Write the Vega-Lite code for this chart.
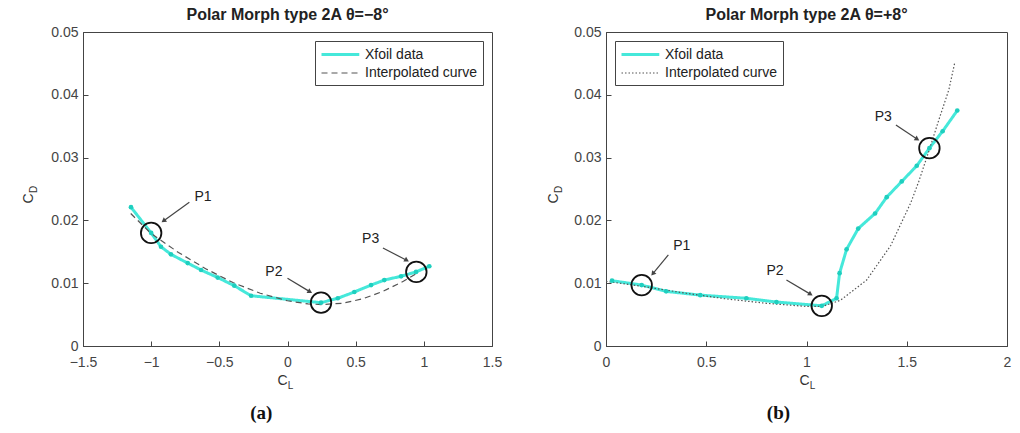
{
  "$schema": "https://vega.github.io/schema/vega-lite/v6.json",
  "padding": {"left": 20, "top": 6, "right": 4, "bottom": 4},
  "spacing": 42,
  "datasets": {
    "a_lines": [
      {"CL": -1.148, "CD": 0.0221, "series": "Xfoil data"},
      {"CL": -1.0, "CD": 0.0180, "series": "Xfoil data"},
      {"CL": -0.928, "CD": 0.0158, "series": "Xfoil data"},
      {"CL": -0.855, "CD": 0.0146, "series": "Xfoil data"},
      {"CL": -0.732, "CD": 0.0132, "series": "Xfoil data"},
      {"CL": -0.634, "CD": 0.0121, "series": "Xfoil data"},
      {"CL": -0.512, "CD": 0.0109, "series": "Xfoil data"},
      {"CL": -0.39, "CD": 0.0096, "series": "Xfoil data"},
      {"CL": -0.267, "CD": 0.0080, "series": "Xfoil data"},
      {"CL": 0.246, "CD": 0.0069, "series": "Xfoil data"},
      {"CL": 0.369, "CD": 0.0076, "series": "Xfoil data"},
      {"CL": 0.49, "CD": 0.0086, "series": "Xfoil data"},
      {"CL": 0.613, "CD": 0.0097, "series": "Xfoil data"},
      {"CL": 0.71, "CD": 0.0105, "series": "Xfoil data"},
      {"CL": 0.833, "CD": 0.0111, "series": "Xfoil data"},
      {"CL": 0.943, "CD": 0.0118, "series": "Xfoil data"},
      {"CL": 1.04, "CD": 0.0127, "series": "Xfoil data"},
      {"CL": -1.15, "CD": 0.0211, "series": "Interpolated curve"},
      {"CL": -1.0, "CD": 0.0179, "series": "Interpolated curve"},
      {"CL": -0.8, "CD": 0.0149, "series": "Interpolated curve"},
      {"CL": -0.6, "CD": 0.0123, "series": "Interpolated curve"},
      {"CL": -0.4, "CD": 0.0101, "series": "Interpolated curve"},
      {"CL": -0.2, "CD": 0.0084, "series": "Interpolated curve"},
      {"CL": 0.0, "CD": 0.0072, "series": "Interpolated curve"},
      {"CL": 0.15, "CD": 0.0067, "series": "Interpolated curve"},
      {"CL": 0.25, "CD": 0.0066, "series": "Interpolated curve"},
      {"CL": 0.4, "CD": 0.0068, "series": "Interpolated curve"},
      {"CL": 0.55, "CD": 0.0075, "series": "Interpolated curve"},
      {"CL": 0.7, "CD": 0.0087, "series": "Interpolated curve"},
      {"CL": 0.85, "CD": 0.0103, "series": "Interpolated curve"},
      {"CL": 0.95, "CD": 0.0116, "series": "Interpolated curve"}
    ],
    "a_pts": [
      {"label": "P1", "CL": -1.0, "CD": 0.0180},
      {"label": "P2", "CL": 0.246, "CD": 0.0069},
      {"label": "P3", "CL": 0.945, "CD": 0.0118}
    ],
    "a_arrows": [
      {"label": "P1", "lx": -0.62, "ly": 0.0237, "x1": -0.72, "y1": 0.0229, "x2": -0.905, "y2": 0.0200, "dir": "left"},
      {"label": "P2", "lx": -0.10, "ly": 0.0118, "x1": 0.0, "y1": 0.0108, "x2": 0.16, "y2": 0.0087, "dir": "right"},
      {"label": "P3", "lx": 0.61, "ly": 0.0170, "x1": 0.70, "y1": 0.0156, "x2": 0.87, "y2": 0.0137, "dir": "right"}
    ],
    "b_lines": [
      {"CL": 0.03, "CD": 0.0104, "series": "Xfoil data"},
      {"CL": 0.178, "CD": 0.0097, "series": "Xfoil data"},
      {"CL": 0.30, "CD": 0.0087, "series": "Xfoil data"},
      {"CL": 0.47, "CD": 0.0081, "series": "Xfoil data"},
      {"CL": 0.70, "CD": 0.0076, "series": "Xfoil data"},
      {"CL": 0.85, "CD": 0.0070, "series": "Xfoil data"},
      {"CL": 1.076, "CD": 0.0064, "series": "Xfoil data"},
      {"CL": 1.15, "CD": 0.0076, "series": "Xfoil data"},
      {"CL": 1.165, "CD": 0.0116, "series": "Xfoil data"},
      {"CL": 1.20, "CD": 0.0154, "series": "Xfoil data"},
      {"CL": 1.258, "CD": 0.0187, "series": "Xfoil data"},
      {"CL": 1.342, "CD": 0.0211, "series": "Xfoil data"},
      {"CL": 1.40, "CD": 0.0237, "series": "Xfoil data"},
      {"CL": 1.475, "CD": 0.0262, "series": "Xfoil data"},
      {"CL": 1.55, "CD": 0.0287, "series": "Xfoil data"},
      {"CL": 1.613, "CD": 0.0315, "series": "Xfoil data"},
      {"CL": 1.679, "CD": 0.0342, "series": "Xfoil data"},
      {"CL": 1.752, "CD": 0.0375, "series": "Xfoil data"},
      {"CL": 0.0, "CD": 0.0103, "series": "Interpolated curve"},
      {"CL": 0.18, "CD": 0.0095, "series": "Interpolated curve"},
      {"CL": 0.4, "CD": 0.0084, "series": "Interpolated curve"},
      {"CL": 0.6, "CD": 0.0075, "series": "Interpolated curve"},
      {"CL": 0.8, "CD": 0.0068, "series": "Interpolated curve"},
      {"CL": 1.0, "CD": 0.0063, "series": "Interpolated curve"},
      {"CL": 1.08, "CD": 0.0063, "series": "Interpolated curve"},
      {"CL": 1.17, "CD": 0.0073, "series": "Interpolated curve"},
      {"CL": 1.30, "CD": 0.0105, "series": "Interpolated curve"},
      {"CL": 1.42, "CD": 0.0160, "series": "Interpolated curve"},
      {"CL": 1.52, "CD": 0.0228, "series": "Interpolated curve"},
      {"CL": 1.56, "CD": 0.0262, "series": "Interpolated curve"},
      {"CL": 1.61, "CD": 0.0310, "series": "Interpolated curve"},
      {"CL": 1.66, "CD": 0.0360, "series": "Interpolated curve"},
      {"CL": 1.71, "CD": 0.0408, "series": "Interpolated curve"},
      {"CL": 1.74, "CD": 0.0452, "series": "Interpolated curve"}
    ],
    "b_pts": [
      {"label": "P1", "CL": 0.178, "CD": 0.0097},
      {"label": "P2", "CL": 1.076, "CD": 0.0064},
      {"label": "P3", "CL": 1.613, "CD": 0.0315}
    ],
    "b_arrows": [
      {"label": "P1", "lx": 0.378, "ly": 0.0159, "x1": 0.311, "y1": 0.0145, "x2": 0.236, "y2": 0.0116, "dir": "left"},
      {"label": "P2", "lx": 0.843, "ly": 0.0119, "x1": 0.90, "y1": 0.0105, "x2": 1.017, "y2": 0.0083, "dir": "right"},
      {"label": "P3", "lx": 1.383, "ly": 0.0364, "x1": 1.446, "y1": 0.0352, "x2": 1.549, "y2": 0.0330, "dir": "right"}
    ]
  },
  "hconcat": [
    {
      "title": {"text": "(a)", "orient": "bottom", "anchor": "middle", "font": "Liberation Serif", "fontSize": 19, "fontWeight": "bold", "color": "#111", "offset": 13},
      "resolve": {"scale": {"color": "independent", "strokeDash": "independent", "strokeWidth": "independent"}},
      "vconcat": [
        {
          "width": 409,
          "height": 314,
          "title": {"text": "Polar Morph type 2A θ=−8°", "font": "Liberation Sans", "fontSize": 16, "fontWeight": "bold", "color": "#222", "offset": 2},
          "resolve": {"axis": {"x": "independent", "y": "independent"}},
          "layer": [
            {
              "data": {"name": "a_lines"},
              "mark": {"type": "line"},
              "encoding": {
                "x": {"field": "CL", "type": "quantitative", "scale": {"domain": [-1.5, 1.5], "nice": false, "zero": false},
                  "axis": {"orient": "bottom", "values": [-1.5, -1, -0.5, 0, 0.5, 1, 1.5], "format": "~g", "labelFlush": false, "title": "C", "titleX": 199, "titleY": 34, "titleBaseline": "middle", "titleAlign": "center", "tickSize": -5, "labelPadding": 14}},
                "y": {"field": "CD", "type": "quantitative", "scale": {"domain": [0, 0.05], "nice": false, "zero": true},
                  "axis": {"orient": "left", "values": [0, 0.01, 0.02, 0.03, 0.04, 0.05], "format": "~g", "labelFlush": false, "title": "C", "titleX": -55, "titleY": 166, "titleAngle": 270, "titleBaseline": "middle", "titleAlign": "center", "tickSize": -5, "labelPadding": 10}},
                "color": {"field": "series", "type": "nominal", "scale": {"domain": ["Xfoil data", "Interpolated curve"], "range": ["#45e8da", "#555555"]},
                  "legend": {"orient": "top-right", "offset": 9, "title": null}},
                "strokeDash": {"field": "series", "type": "nominal", "scale": {"domain": ["Xfoil data", "Interpolated curve"], "range": [[1, 0], [6, 4]]},
                  "legend": {"orient": "top-right", "offset": 9, "title": null}},
                "strokeWidth": {"field": "series", "type": "nominal", "scale": {"domain": ["Xfoil data", "Interpolated curve"], "range": [3, 1.2]},
                  "legend": {"orient": "top-right", "offset": 9, "title": null}}
              }
            },
            {
              "data": {"name": "a_lines"},
              "transform": [{"filter": "datum.series === 'Xfoil data'"}],
              "mark": {"type": "point", "filled": true, "color": "#1fcfbf", "size": 22, "opacity": 1},
              "encoding": {
                "x": {"field": "CL", "type": "quantitative", "axis": null},
                "y": {"field": "CD", "type": "quantitative", "axis": null}
              }
            },
            {
              "data": {"name": "a_pts"},
              "mark": {"type": "point", "filled": false, "color": "#111", "size": 420, "strokeWidth": 1.8, "opacity": 1},
              "encoding": {
                "x": {"field": "CL", "type": "quantitative",
                  "axis": {"orient": "bottom", "title": "L", "labels": false, "ticks": false, "domain": false, "titleX": 207, "titleY": 39, "titleFontSize": 10, "titleBaseline": "middle"}},
                "y": {"field": "CD", "type": "quantitative",
                  "axis": {"orient": "left", "title": "D", "labels": false, "ticks": false, "domain": false, "titleX": -50, "titleY": 157, "titleFontSize": 10, "titleAngle": 270, "titleBaseline": "middle"}}
              }
            },
            {
              "data": {"name": "a_arrows"},
              "mark": {"type": "rule", "color": "#444", "strokeWidth": 1.2},
              "encoding": {
                "x": {"field": "x1", "type": "quantitative", "axis": null},
                "y": {"field": "y1", "type": "quantitative", "axis": null},
                "x2": {"field": "x2"},
                "y2": {"field": "y2"}
              }
            },
            {
              "data": {"name": "a_arrows"},
              "transform": [{"filter": "datum.dir === 'left'"}],
              "mark": {"type": "point", "shape": "triangle", "filled": true, "color": "#444", "size": 30, "angle": 233, "opacity": 1},
              "encoding": {
                "x": {"field": "x2", "type": "quantitative", "axis": null},
                "y": {"field": "y2", "type": "quantitative", "axis": null}
              }
            },
            {
              "data": {"name": "a_arrows"},
              "transform": [{"filter": "datum.dir === 'right'"}],
              "mark": {"type": "point", "shape": "triangle", "filled": true, "color": "#444", "size": 30, "angle": 120, "opacity": 1},
              "encoding": {
                "x": {"field": "x2", "type": "quantitative", "axis": null},
                "y": {"field": "y2", "type": "quantitative", "axis": null}
              }
            },
            {
              "data": {"name": "a_arrows"},
              "mark": {"type": "text", "font": "Liberation Sans", "fontSize": 14, "color": "#222"},
              "encoding": {
                "x": {"field": "lx", "type": "quantitative", "axis": null},
                "y": {"field": "ly", "type": "quantitative", "axis": null},
                "text": {"field": "label"}
              }
            }
          ]
        }
      ]
    },
    {
      "title": {"text": "(b)", "orient": "bottom", "anchor": "middle", "font": "Liberation Serif", "fontSize": 19, "fontWeight": "bold", "color": "#111", "offset": 13},
      "resolve": {"scale": {"color": "independent", "strokeDash": "independent", "strokeWidth": "independent"}},
      "vconcat": [
        {
          "width": 401,
          "height": 314,
          "title": {"text": "Polar Morph type 2A θ=+8°", "font": "Liberation Sans", "fontSize": 16, "fontWeight": "bold", "color": "#222", "offset": 2},
          "resolve": {"axis": {"x": "independent", "y": "independent"}},
          "layer": [
            {
              "data": {"name": "b_lines"},
              "mark": {"type": "line"},
              "encoding": {
                "x": {"field": "CL", "type": "quantitative", "scale": {"domain": [0, 2], "nice": false, "zero": false},
                  "axis": {"orient": "bottom", "values": [0, 0.5, 1, 1.5, 2], "format": "~g", "labelFlush": false, "title": "C", "titleX": 198, "titleY": 34, "titleBaseline": "middle", "titleAlign": "center", "tickSize": -5, "labelPadding": 14}},
                "y": {"field": "CD", "type": "quantitative", "scale": {"domain": [0, 0.05], "nice": false, "zero": true},
                  "axis": {"orient": "left", "values": [0, 0.01, 0.02, 0.03, 0.04, 0.05], "format": "~g", "labelFlush": false, "title": "C", "titleX": -53, "titleY": 166, "titleAngle": 270, "titleBaseline": "middle", "titleAlign": "center", "tickSize": -5, "labelPadding": 10}},
                "color": {"field": "series", "type": "nominal", "scale": {"domain": ["Xfoil data", "Interpolated curve"], "range": ["#45e8da", "#555555"]},
                  "legend": {"orient": "top-left", "offset": 9, "title": null}},
                "strokeDash": {"field": "series", "type": "nominal", "scale": {"domain": ["Xfoil data", "Interpolated curve"], "range": [[1, 0], [1.5, 2]]},
                  "legend": {"orient": "top-left", "offset": 9, "title": null}},
                "strokeWidth": {"field": "series", "type": "nominal", "scale": {"domain": ["Xfoil data", "Interpolated curve"], "range": [3, 1.2]},
                  "legend": {"orient": "top-left", "offset": 9, "title": null}}
              }
            },
            {
              "data": {"name": "b_lines"},
              "transform": [{"filter": "datum.series === 'Xfoil data'"}],
              "mark": {"type": "point", "filled": true, "color": "#1fcfbf", "size": 22, "opacity": 1},
              "encoding": {
                "x": {"field": "CL", "type": "quantitative", "axis": null},
                "y": {"field": "CD", "type": "quantitative", "axis": null}
              }
            },
            {
              "data": {"name": "b_pts"},
              "mark": {"type": "point", "filled": false, "color": "#111", "size": 420, "strokeWidth": 1.8, "opacity": 1},
              "encoding": {
                "x": {"field": "CL", "type": "quantitative",
                  "axis": {"orient": "bottom", "title": "L", "labels": false, "ticks": false, "domain": false, "titleX": 206, "titleY": 39, "titleFontSize": 10, "titleBaseline": "middle"}},
                "y": {"field": "CD", "type": "quantitative",
                  "axis": {"orient": "left", "title": "D", "labels": false, "ticks": false, "domain": false, "titleX": -48, "titleY": 157, "titleFontSize": 10, "titleAngle": 270, "titleBaseline": "middle"}}
              }
            },
            {
              "data": {"name": "b_arrows"},
              "mark": {"type": "rule", "color": "#444", "strokeWidth": 1.2},
              "encoding": {
                "x": {"field": "x1", "type": "quantitative", "axis": null},
                "y": {"field": "y1", "type": "quantitative", "axis": null},
                "x2": {"field": "x2"},
                "y2": {"field": "y2"}
              }
            },
            {
              "data": {"name": "b_arrows"},
              "transform": [{"filter": "datum.dir === 'left'"}],
              "mark": {"type": "point", "shape": "triangle", "filled": true, "color": "#444", "size": 30, "angle": 219, "opacity": 1},
              "encoding": {
                "x": {"field": "x2", "type": "quantitative", "axis": null},
                "y": {"field": "y2", "type": "quantitative", "axis": null}
              }
            },
            {
              "data": {"name": "b_arrows"},
              "transform": [{"filter": "datum.dir === 'right'"}],
              "mark": {"type": "point", "shape": "triangle", "filled": true, "color": "#444", "size": 30, "angle": 122, "opacity": 1},
              "encoding": {
                "x": {"field": "x2", "type": "quantitative", "axis": null},
                "y": {"field": "y2", "type": "quantitative", "axis": null}
              }
            },
            {
              "data": {"name": "b_arrows"},
              "mark": {"type": "text", "font": "Liberation Sans", "fontSize": 14, "color": "#222"},
              "encoding": {
                "x": {"field": "lx", "type": "quantitative", "axis": null},
                "y": {"field": "ly", "type": "quantitative", "axis": null},
                "text": {"field": "label"}
              }
            }
          ]
        }
      ]
    }
  ],
  "config": {
    "view": {"stroke": "#444", "strokeWidth": 1},
    "axis": {"grid": false, "labelFont": "Liberation Sans", "labelFontSize": 14, "labelColor": "#444", "titleFont": "Liberation Sans", "titleFontSize": 14, "titleFontWeight": "normal", "titleColor": "#333", "domainColor": "#444", "tickColor": "#444"},
    "legend": {"strokeColor": "#444", "fillColor": "white", "padding": 5, "labelFont": "Liberation Sans", "labelFontSize": 14, "labelColor": "#222", "symbolType": "M-1,0H4.4", "symbolSize": 196, "rowPadding": 3, "labelOffset": 28}
  }
}
